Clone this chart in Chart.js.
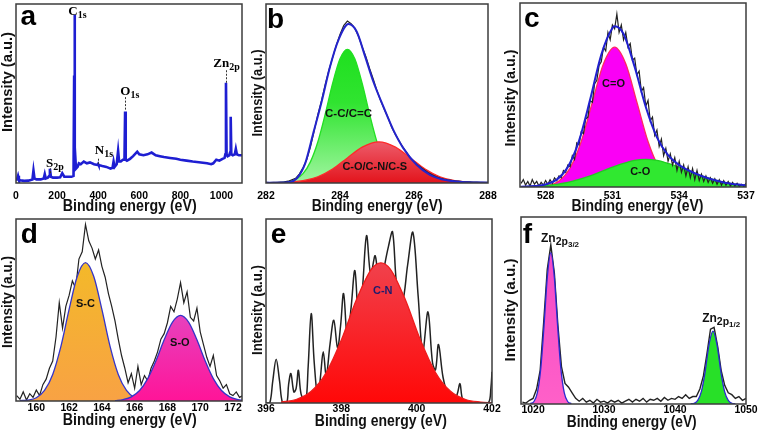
<!DOCTYPE html>
<html>
<head>
<meta charset="utf-8">
<script src="https://cdn.jsdelivr.net/npm/chart.js@4.4.1/dist/chart.umd.min.js"></script>
<style>
html, body { margin: 0; padding: 0; background: #fff; }
#wrap { position: relative; width: 758px; height: 436px; }
#wrap canvas { position: absolute; left: 0; top: 0; }
</style>
</head>
<body>
<div id="wrap">
  <canvas id="pa" width="758" height="436"></canvas>
  <canvas id="pb" width="758" height="436"></canvas>
  <canvas id="pc" width="758" height="436"></canvas>
  <canvas id="pd" width="758" height="436"></canvas>
  <canvas id="pe" width="758" height="436"></canvas>
  <canvas id="pf" width="758" height="436"></canvas>
</div>
<script>
// ---- data (intensities in % of panel height) ----

// a: survey
const surveyE = [0,5,10,14,20,40,60,80,85,90,
  100,120,135,140,145,155,162,165,170,180,
  200,215,225,235,250,270,280,283,285,287,
  292,300,306,315,330,345,360,380,398,400,
  402,420,440,460,470,475,480,490,497,502,
  510,520,528,531,534,540,555,570,590,600,
  620,640,660,680,700,720,750,780,800,830,
  860,900,930,950,960,975,990,1005,1015,1019,
  1022,1025,1030,1038,1042,1045,1048,1055,1065,1070,
  1075,1085,1100]
const surveyI = [2,2,4,2,1.5,1.2,1.3,2,7,2.5,
  2,2,2.5,5,2.5,3,4,8,3.5,3,
  3,3.2,5.5,3.5,3.5,3.5,4,60,94,20,
  8,9,11,10.5,12,11,11.5,10.5,10,10.5,
  10,9.5,9,8,8.5,12,9,10.5,18,12,
  12,13,13,40,13,12.5,13.5,15,17.5,16,
  15.5,16,17,15.5,15,14.5,14,13.5,13,12.5,
  12,11.5,11,10.5,11,13,12.5,13.5,14,16,
  56,16,15,15.5,17,37,16,15.5,16,19,
  16,15.5,15.5]
const surveyTicks = [0,200,400,600,800,1000]

// b: C 1s
const c1sRaw = [0.3,0.2,0.4,0.3,0.5,0.6,1.0,1.8,2.6,5.0,
  8.5,13,20,29,38,46,55,63,70,77,
  83,88,90.5,89,86.5,82,76,70.5,64,58,
  51.5,46,41,36.5,31,27,23.5,20,17,14,
  12,10,8.5,7,5.5,4.5,3.5,2.8,2.2,1.8,
  1.5,1.2,1.0,0.8,0.7,0.6,0.5,0.5,0.4,0.4,
  0.3]
const c1sFitE = [282.0,282.6,282.84,283.06,283.28,283.51,283.73,283.96,284.23,284.45,284.68,284.9,285.17,285.44,285.71,286.07,286.43,286.88,287.42,288.0]
const c1sFit = [0.1,0.4,2.8,11,28,46,65,80,88.8,84.6,70.6,56.7,42.8,29.7,19.5,10.2,4.6,1.5,0.4,0.2]
const c1sCCE = [282.4,282.6,282.8,283.0,283.2,283.4,283.6,283.8,284.0,284.2,284.4,284.6,284.8,285.0,285.2,285.4,285.6,285.8,286.0]
const c1sCC = [0.1,0.7,2.0,5.2,11.8,22.9,38.4,55.6,69.4,74.7,69.4,55.6,38.4,22.9,11.8,5.2,2.0,0.7,0.1]
const c1sCOE = [282.6,283.0,283.4,283.8,284.2,284.6,285.05,285.5,285.9,286.3,286.7,287.1,287.5,288.0]
const c1sCO = [0.4,1.3,3.5,7.8,14.0,20.0,23,20.0,14.0,7.8,3.5,1.3,0.4,0.1]
const c1sTicks = [282,284,286,288]

// c: O 1s
const o1sRaw = [2,4,1,3,0.5,4,1.5,3,0.5,2.5,
  1,3.5,1.5,4,2,5,3.5,6,5,9,
  8,12,11,17,15,24,23,30,29,37,
  38,47,46,56,58,66,68,76,74,84,
  80,88,86,94,84,88,80,84,76,78,
  69,70,61,63,52,54,44,47,36,38,
  28,31,22,26,17,21,14,18,12,16,
  9,14,8,12,6,11,5,10,4,9,
  3.5,7,3,6,2.5,5,2,4.5,1.5,4,
  1,3.5,1,3,0.5,2.5,0.5,2,0.3,1.5,
  0.3,2]
const o1sFitE = [526.9,527.5,528,528.5,529,529.5,530,530.5,531,531.1,531.5,532,532.5,533,533.5,534,535,536,537]
const o1sFit = [0.1,0.5,1.4,4.0,10.9,25.1,47.5,71.9,86.4,87.3,83.2,65.2,43.5,27.0,17.3,11.9,6.0,2.5,0.8]
const o1sCdOE = [527.6,528.1,528.6,529.1,529.6,530.1,530.6,531.1,531.6,532.1,532.6,533.1,533.6,534.1,534.6]
const o1sCdO = [0.1,0.8,3.3,10.3,24.7,46.1,67,76,67,46.1,24.7,10.3,3.3,0.8,0.1]
const o1sCOE = [527.0,528.0,529.0,530.0,531.0,532.0,532.5,533.0,534.0,535.0,536.0,537.0]
const o1sCO = [0.2,0.8,2.5,6.0,10.8,14.5,15,14.5,10.8,6.0,2.5,0.8]
const o1sTicks = [528,531,534,537]

// d: S 2p
const s2pRaw = [3,1,5,0.5,4, 2,6,3,9,12,
  18,22,35,54,40, 52,58,66,62,78,
  82,97,88,84,78, 83,74,68,59,52,
  44,34,25,18,10, 15,7,19,9,14,
  11,18,22,27,34, 37,43,52,49,56,
  65,54,60,46,44, 51,38,31,24,19,
  25,14,11,7,9, 4,3,5,2,3]
const s2pSCE = [159.0,159.5,160,160.5,161,161.5,162,162.5,163,163.5,164,164.5,165,165.5,166,166.5,167]
const s2pSC = [0.2,0.5,1.8,5.8,14.6,30.0,50.3,68.5,76,68.5,50.3,30.0,14.6,5.8,1.8,0.5,0.1]
const s2pSOE = [164.8,165.3,165.8,166.3,166.8,167.3,167.8,168.3,168.8,169.3,169.8,170.3,170.8,171.3,171.8,172.3,172.6]
const s2pSO = [0.2,0.8,2.3,5.8,12.3,22.1,33.6,43.2,47,43.2,33.6,22.1,12.3,5.8,2.3,0.8,0.4]
const s2pTicks = [160,162,164,166,168,170,172]

// e: N 1s
const n1sRawE = [396.0,396.1,396.18,396.27,396.36,396.44,396.55,396.6,396.66,396.74,
  396.8,396.86,396.93,397.05,397.12,397.2,397.28,397.38,397.45,397.52,
  397.6,397.7,397.8,397.9,397.98,398.06,398.16,398.26,398.36,398.46,
  398.56,398.67,398.78,398.9,399.02,399.15,399.25,399.36,399.48,399.62,
  399.76,399.9,400.04,400.16,400.3,400.42,400.5,400.58,400.7,400.85,
  400.98,401.08,401.15,401.22,401.35,401.6,401.9,401.97,402.0]
const n1sRaw = [0,0,12,23.8,12,0,0,10,16,6,
  8,17.8,5,0,20,48.6,22,2,15,27.8,
  15,32,45,30,42,59.5,35,52,72,45,
  62,91,70,80,60,75,85,93,62,55,
  75,92.7,58,28,49.5,22,18,31.8,14,3,
  0,5,10.5,2,0,0,0,8,17]
const n1sCNE = [396.4,396.8,397.2,397.6,398.0,398.4,398.8,399.05,399.3,399.7,400.1,400.5,400.9,401.3,401.7,402.0]
const n1sCN = [0.5,1.9,6.4,16.6,34.2,56.1,72.8,76.2,72.8,56.1,34.2,16.6,6.4,1.9,0.5,0.1]
const n1sTicks = [396,398,400,402]

// f: Zn 2p
const zn2pRaw = [1,0.5,
  2,3,8,18,44,72,85,70,42,20,11,9,6,3,
  1.5,3,1,2,0.5,2.5,1,1.5,0.5,2,1,2,0.5,1.5,
  2.5,1,2.5,1.5,3,1,2.5,2,3,1.5,3.5,2,3,2.5,
  4,3,5,3,4,4,8,15,27,40,41,31,18,10,
  6,5,3,4,2,3]
const zn32E = [1019.6,1020.1,1020.6,1021.1,1021.6,1022.0,1022.5,1023.0,1023.4,1023.9,1024.4,1024.9,1025.4]
const zn32 = [0.2,1.2,5.9,19.6,45.0,67.6,81,67.6,45.0,19.6,5.9,1.2,0.2]
const zn12E = [1042.2,1042.7,1043.2,1043.7,1044.2,1044.8,1045.35,1045.9,1046.5,1047.0,1047.5,1048.0,1048.5]
const zn12 = [0.1,0.4,1.9,6.5,16.3,32.0,39,32.0,16.3,6.5,1.9,0.4,0.1]
const zn2pTicks = [1020,1030,1040,1050]

// ---- helpers ----
const SANS = '"Liberation Sans", Arial, sans-serif'
const SERIF = '"Liberation Serif", "Times New Roman", serif'

// evenly spaced energy axis of a scan
const scanAxis = (start, step, n) => Array.from({length: n}, (_, i) => +(start + i * step).toFixed(3))
const pts = (xs, ys) => xs.map((x, i) => ({x: x, y: ys[i]}))

const vgrad = (stops) => (c) => {
  const area = c.chart.chartArea
  if (!area) return stops[0][1]
  const g = c.chart.ctx.createLinearGradient(0, area.top, 0, area.bottom)
  stops.forEach(s => g.addColorStop(s[0], s[1]))
  return g
}

const raw = (xs, ys, order, w) => ({data: pts(xs, ys), borderColor: '#222', borderWidth: w || 1.2, pointRadius: 0, tension: 0, fill: false, order: order})
const fit = (xs, ys, color, order, w) => ({data: pts(xs, ys), borderColor: color, borderWidth: w || 1.8, pointRadius: 0, tension: 0.4, cubicInterpolationMode: 'monotone', fill: false, order: order})
const peak = (xs, ys, line, bg, order) => ({data: pts(xs, ys), borderColor: line, borderWidth: 1.3, backgroundColor: bg, pointRadius: 0, tension: 0.4, cubicInterpolationMode: 'monotone', fill: 'origin', order: order})

function drawText(ctx, s, x, y, font, o) {
  o = o || {}
  ctx.save()
  ctx.font = font
  ctx.fillStyle = o.color || '#000'
  ctx.textAlign = o.align || 'center'
  ctx.textBaseline = o.base || 'alphabetic'
  ctx.translate(x, y)
  if (o.rot) ctx.rotate(o.rot)
  let sx = o.sx || 1
  if (o.width) sx = o.width / ctx.measureText(s).width
  ctx.scale(sx, 1)
  ctx.fillText(s, 0, 0)
  ctx.restore()
}

// label made of pieces with subscripts: [text, size, drop]
function drawParts(ctx, parts, cx, by, family, color) {
  ctx.save()
  ctx.fillStyle = color || '#000'
  ctx.textBaseline = 'alphabetic'
  ctx.textAlign = 'left'
  let total = 0
  parts.forEach(p => { ctx.font = 'bold ' + p[1] + 'px ' + family; total += ctx.measureText(p[0]).width })
  let x = cx - total / 2
  parts.forEach(p => {
    ctx.font = 'bold ' + p[1] + 'px ' + family
    ctx.fillText(p[0], x, by + p[2])
    x += ctx.measureText(p[0]).width
  })
  ctx.restore()
}

// ---- panel layout (page pixels) ----
const layout = {
  pa: {box: [16,4,242,183], x: [0,1100], ticks: surveyTicks, tickY: 195.5, titleX: 129.7, titleY: 211, titleW: 134,
       yTitleX: 8, yTitleY: 82, yTitleL: 100, letter: 'a', lx: 20.5, ly: 25,
       labels: [
         {x: 299, y: 93.8, parts: [['C',13,0],['1s',10,3]], family: SERIF},
         {x: 189, y: 9.0, parts: [['S',13,0],['2p',10,3]], family: SERIF},
         {x: 428, y: 16.4, parts: [['N',13,0],['1s',10,3]], family: SERIF},
         {x: 554, y: 49, parts: [['O',13,0],['1s',10,3]], family: SERIF},
         {x: 1025, y: 65, parts: [['Zn',13,0],['2p',10,3]], family: SERIF}],
       markers: [{x: 165, y0: 5.5, y1: 8.2}, {x: 400, y0: 10.5, y1: 13.8}, {x: 531, y0: 41, y1: 48}, {x: 1022, y0: 56, y1: 63}]},
  pb: {box: [266,4,488,183], x: [282,288], ticks: c1sTicks, tickY: 196, titleX: 377.2, titleY: 211, titleW: 131,
       yTitleX: 257.5, yTitleY: 93, yTitleL: 87, letter: 'b', lx: 267, ly: 27.7,
       labels: [
         {x: 284.23, y: 36.8, parts: [['C-C/C=C',11.5,0]], family: SANS, color: '#111'},
         {x: 284.94, y: 7.1, parts: [['C-O/C-N/C-S',11,0]], family: SANS, color: '#111'}]},
  pc: {box: [520,3,746,187], x: [526.85,537], ticks: o1sTicks, tickY: 195.5, titleX: 637.5, titleY: 211, titleW: 132,
       yTitleX: 511, yTitleY: 98, yTitleL: 97, letter: 'c', lx: 524, ly: 27,
       labels: [
         {x: 531.05, y: 54.4, parts: [['C=O',11,0]], family: SANS, color: '#111'},
         {x: 532.25, y: 6.3, parts: [['C-O',11,0]], family: SANS, color: '#111'}]},
  pd: {box: [16,219,242,401], x: [158.76,172.55], ticks: s2pTicks, tickY: 407.7, titleX: 129.7, titleY: 424.5, titleW: 134,
       yTitleX: 8, yTitleY: 302, yTitleL: 92, letter: 'd', lx: 20.7, ly: 243.3,
       labels: [
         {x: 163.0, y: 51.7, parts: [['S-C',11,0]], family: SANS, color: '#111'},
         {x: 168.76, y: 30.3, parts: [['S-O',11,0]], family: SANS, color: '#111'}]},
  pe: {box: [266,219,492,403], x: [396,402], ticks: n1sTicks, tickY: 409.2, titleX: 380.8, titleY: 425.7, titleW: 132,
       yTitleX: 258.3, yTitleY: 310, yTitleL: 90, letter: 'e', lx: 270.7, ly: 243.3,
       labels: [{x: 399.1, y: 59.2, parts: [['C-N',11,0]], family: SANS, color: '#1c1c6e'}]},
  pf: {box: [521,217,746,404], x: [1018.3,1050], ticks: zn2pTicks, tickY: 409.8, titleX: 631.7, titleY: 426.7, titleW: 130,
       yTitleX: 511, yTitleY: 310, yTitleL: 103, letter: 'f', lx: 522.7, ly: 242.7,
       labels: [
         {x: 1023.8, y: 86.7, parts: [['Zn',12,0],['2p',10.5,3],['3/2',8,5]], family: SANS, color: '#111'},
         {x: 1046.5, y: 44, parts: [['Zn',12,0],['2p',10.5,3],['1/2',8,5]], family: SANS, color: '#111'}]}
}

const decor = {
  id: 'decor',
  afterDraw(chart) {
    const L = layout[chart.canvas.id]
    const ctx = chart.ctx
    const a = chart.chartArea
    const xs = chart.scales.x, ys = chart.scales.y
    ctx.save()
    ;(L.markers || []).forEach(m => {
      const px = Math.round(xs.getPixelForValue(m.x)) + 0.5
      ctx.strokeStyle = '#333'
      ctx.lineWidth = 1
      ctx.setLineDash([2, 1.5])
      ctx.beginPath()
      ctx.moveTo(px, ys.getPixelForValue(m.y0))
      ctx.lineTo(px, ys.getPixelForValue(m.y1))
      ctx.stroke()
    })
    ctx.setLineDash([])
    ;(L.labels || []).forEach(lb => drawParts(ctx, lb.parts, xs.getPixelForValue(lb.x), ys.getPixelForValue(lb.y), lb.family, lb.color))
    ctx.strokeStyle = '#3c3c3c'
    ctx.lineWidth = 1.5
    ctx.strokeRect(a.left, a.top, a.right - a.left, a.bottom - a.top)
    L.ticks.forEach(v => drawText(ctx, String(v), xs.getPixelForValue(v), L.tickY, 'bold 11px ' + SANS, {sx: 0.95, base: 'middle', color: '#000'}))
    drawText(ctx, 'Binding energy (eV)', L.titleX, L.titleY, 'bold 16px ' + SANS, {width: L.titleW, color: '#111'})
    drawText(ctx, 'Intensity (a.u.)', L.yTitleX, L.yTitleY, 'bold 15px ' + SANS, {width: L.yTitleL, rot: -Math.PI / 2, base: 'middle', color: '#111'})
    drawText(ctx, L.letter, L.lx, L.ly, 'bold 28px ' + SANS, {align: 'left', color: '#000'})
    ctx.restore()
  }
}

function makePanel(id, datasets) {
  const L = layout[id]
  return new Chart(document.getElementById(id), {
    type: 'line',
    data: {datasets: datasets},
    options: {
      responsive: false,
      animation: false,
      devicePixelRatio: 1,
      layout: {padding: {left: L.box[0], top: L.box[1], right: 758 - L.box[2], bottom: 436 - L.box[3]}},
      scales: {
        x: {type: 'linear', display: false, min: L.x[0], max: L.x[1]},
        y: {type: 'linear', display: false, min: 0, max: 100}
      },
      plugins: {legend: {display: false}, tooltip: {enabled: false}}
    },
    plugins: [decor]
  })
}

makePanel('pa', [
  {data: pts(surveyE, surveyI), borderColor: '#1e1ed2', borderWidth: 2.6, pointRadius: 0, tension: 0, fill: false}
])

makePanel('pb', [
  fit(c1sFitE, c1sFit, '#2424cc', 0, 2),
  raw(scanAxis(282, 0.1, 61), c1sRaw, 1, 1.2),
  peak(c1sCOE, c1sCO, '#ff2a2a', vgrad([[0, '#f590a0'], [0.72, '#ef6b7b'], [1, '#e3141c']]), 2),
  peak(c1sCCE, c1sCC, '#22e022', vgrad([[0, '#10dc10'], [0.55, '#30e430'], [1, '#a0f5a0']]), 3)
])

makePanel('pc', [
  fit(o1sFitE, o1sFit, '#2020d0', 0, 2),
  raw(scanAxis(526.9, 0.1, 102), o1sRaw, 1, 1.2),
  peak(o1sCOE, o1sCO, '#20d020', '#30e830', 2),
  peak(o1sCdOE, o1sCdO, '#ff2a60', '#fa00f5', 3)
])

makePanel('pd', [
  peak(s2pSOE, s2pSO, '#3434c8', vgrad([[0.4, '#e04ec8'], [1, '#ff1498']]), 0),
  peak(s2pSCE, s2pSC, '#3434c8', vgrad([[0.2, '#f3ba28'], [1, '#f8a244']]), 1),
  raw(scanAxis(158.8, 0.2, 70), s2pRaw, 2, 1.2)
])

makePanel('pe', [
  peak(n1sCNE, n1sCN, '#ee1c1c', vgrad([[0.2, '#f04450'], [0.7, '#fa1e22'], [1, '#ff0808']]), 0),
  {data: pts(n1sRawE, n1sRaw), borderColor: '#222', borderWidth: 1.5, pointRadius: 0, tension: 0.35, fill: false, order: 1}
])

makePanel('pf', [
  peak(zn32E, zn32, '#2a2ad0', vgrad([[0.1, '#f248c8'], [1, '#ff60c8']]), 0),
  peak(zn12E, zn12, '#2a2ad0', '#28e028', 1),
  raw(scanAxis(1018.5, 0.5, 64), zn2pRaw, 2, 1.4)
])
</script>
</body>
</html>
